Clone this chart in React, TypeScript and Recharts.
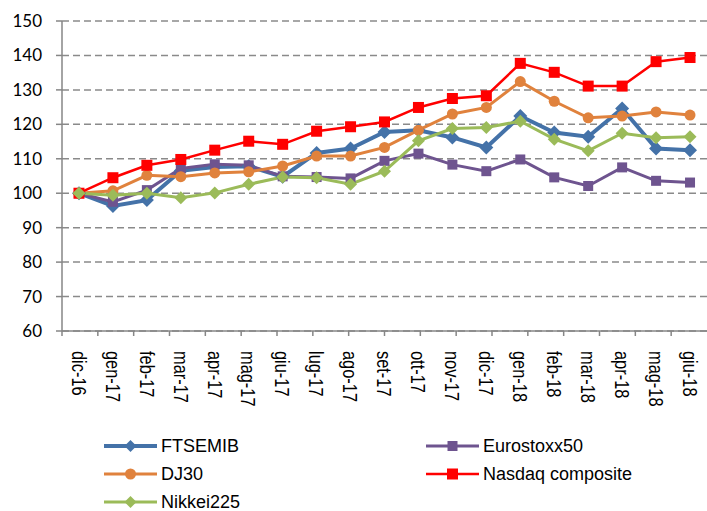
import { LineChart, Line, XAxis, YAxis, CartesianGrid, Legend } from "recharts";

const months = [
  "dic-16", "gen-17", "feb-17", "mar-17", "apr-17", "mag-17", "giu-17", "lug-17", "ago-17", "set-17",
  "ott-17", "nov-17", "dic-17", "gen-18", "feb-18", "mar-18", "apr-18", "mag-18", "giu-18",
];

const ftsemib = [100, 96.3, 98, 106.5, 107.6, 107.8, 104.8, 111.7, 113.0, 117.8, 118.3, 116.2, 113.3, 122.4, 117.6, 116.4, 124.6, 113.0, 112.5];
const eurostoxx50 = [100, 97.5, 100.9, 107.2, 108.4, 108.1, 104.9, 104.7, 104.3, 109.4, 111.5, 108.3, 106.4, 109.8, 104.6, 102.1, 107.5, 103.6, 103.1];
const dj30 = [100, 100.7, 105.2, 104.8, 105.9, 106.2, 107.9, 110.8, 110.8, 113.3, 118.3, 123.0, 124.9, 132.4, 126.7, 121.9, 122.4, 123.6, 122.7];
const nasdaq = [100, 104.5, 108.1, 109.8, 112.5, 115.1, 114.2, 118.0, 119.3, 120.7, 124.9, 127.5, 128.3, 137.7, 135.1, 131.1, 131.1, 138.2, 139.4];
const nikkei225 = [100, 99.4, 100.0, 98.7, 100.1, 102.6, 104.7, 104.5, 102.6, 106.4, 115.2, 118.8, 119.1, 120.9, 115.7, 112.3, 117.4, 116.1, 116.4];

const yTicks = [60, 70, 80, 90, 100, 110, 120, 130, 140, 150];
const edgeTicks = Array.from({ length: months.length + 1 }, (_, i) => i);

const data = months.map((m, i) => ({
  month: m,
  ftsemib: ftsemib[i],
  eurostoxx50: eurostoxx50[i],
  dj30: dj30[i],
  nasdaq: nasdaq[i],
  nikkei225: nikkei225[i],
}));

type Shape = "diamond" | "square" | "circle";

const series: { key: string; name: string; color: string; shape: Shape; size: number; width: number }[] = [
  { key: "ftsemib", name: "FTSEMIB", color: "#4472a8", shape: "diamond", size: 7, width: 4 },
  { key: "eurostoxx50", name: "Eurostoxx50", color: "#6e548f", shape: "square", size: 5, width: 3 },
  { key: "dj30", name: "DJ30", color: "#e0823d", shape: "circle", size: 5.5, width: 3 },
  { key: "nasdaq", name: "Nasdaq composite", color: "#ff0000", shape: "square", size: 5.5, width: 2.5 },
  { key: "nikkei225", name: "Nikkei225", color: "#9bbb59", shape: "diamond", size: 6.5, width: 3 },
];

function marker(shape: Shape, cx: number, cy: number, s: number, color: string, key?: string) {
  if (shape === "circle") return <circle key={key} cx={cx} cy={cy} r={s} fill={color} />;
  if (shape === "square") return <rect key={key} x={cx - s} y={cy - s} width={s * 2} height={s * 2} fill={color} />;
  return (
    <polygon
      key={key}
      points={`${cx},${cy - s} ${cx + s},${cy} ${cx},${cy + s} ${cx - s},${cy}`}
      fill={color}
    />
  );
}

// narrow font isn't installed, so squeeze the text along its direction
function MonthTick(props: any) {
  const { x, y, payload } = props;
  return (
    <text
      transform={`translate(${x},${y + 6}) rotate(90) scale(0.82,1)`}
      textAnchor="start"
      dy="0.36em"
      fontFamily="'Liberation Sans', Arial, sans-serif"
      fontSize={20}
      fill="#000"
    >
      {payload.value}
    </text>
  );
}

// legend order as in the original: two columns, row-major
const legendOrder = ["ftsemib", "eurostoxx50", "dj30", "nasdaq", "nikkei225"];

function renderLegend() {
  return (
    <div
      style={{
        display: "grid",
        gridTemplateColumns: "322px 281px",
        paddingLeft: 104,
        fontFamily: "'Liberation Sans', Arial, sans-serif",
        fontSize: 18,
        color: "#000",
      }}
    >
      {legendOrder.map((k) => {
        const s = series.find((d) => d.key === k)!;
        return (
          <div key={k} style={{ display: "flex", alignItems: "center", height: 28 }}>
            <svg width={53} height={16}>
              <line x1={0} y1={8} x2={53} y2={8} stroke={s.color} strokeWidth={s.width} />
              {marker(s.shape, 26.5, 8, Math.min(s.size, 6), s.color)}
            </svg>
            <span style={{ marginLeft: 4, whiteSpace: "nowrap", lineHeight: "14px" }}>{s.name}</span>
          </div>
        );
      })}
    </div>
  );
}

export default function App() {
  return (
    <div style={{ position: "absolute", left: 0, top: 0, width: 707, height: 511, background: "#fff" }}>
      <LineChart width={707} height={511} data={data} margin={{ top: 21, right: 0, left: 0, bottom: 84 }}>
        <CartesianGrid
          xAxisId="b"
          vertical={false}
          stroke="#8a8a8a"
          strokeWidth={1.5}
          strokeDasharray="7 4"
        />
        <XAxis
          xAxisId="a"
          type="number"
          domain={[0, months.length]}
          ticks={edgeTicks}
          tick={() => <g />}
          tickSize={5}
          height={6}
          stroke="#868686"
          strokeWidth={1.5}
          allowDataOverflow
        />
        <XAxis
          xAxisId="b"
          dataKey="month"
          scale="band"
          interval={0}
          tickLine={false}
          axisLine={false}
          height={90}
          tick={<MonthTick />}
        />
        <YAxis
          domain={[60, 150]}
          ticks={yTicks}
          width={62}
          tickSize={6}
          tickMargin={14}
          stroke="#868686"
          strokeWidth={1.5}
          tick={{ fill: "#000", fontSize: 17, fontFamily: "Lato, 'Open Sans', sans-serif" }}
          interval={0}
        />
        {series.map((s) => (
          <Line
            key={s.key}
            xAxisId="b"
            dataKey={s.key}
            name={s.name}
            stroke={s.color}
            strokeWidth={s.width}
            isAnimationActive={false}
            dot={(p: any) => marker(s.shape, p.cx, p.cy, s.size, s.color, `${s.key}-${p.index}`)}
            activeDot={false}
          />
        ))}
        <Legend
          layout="vertical"
          align="center"
          verticalAlign="middle"
          wrapperStyle={{ left: 0, top: 432, width: 707 }}
          content={renderLegend}
        />
      </LineChart>
    </div>
  );
}
